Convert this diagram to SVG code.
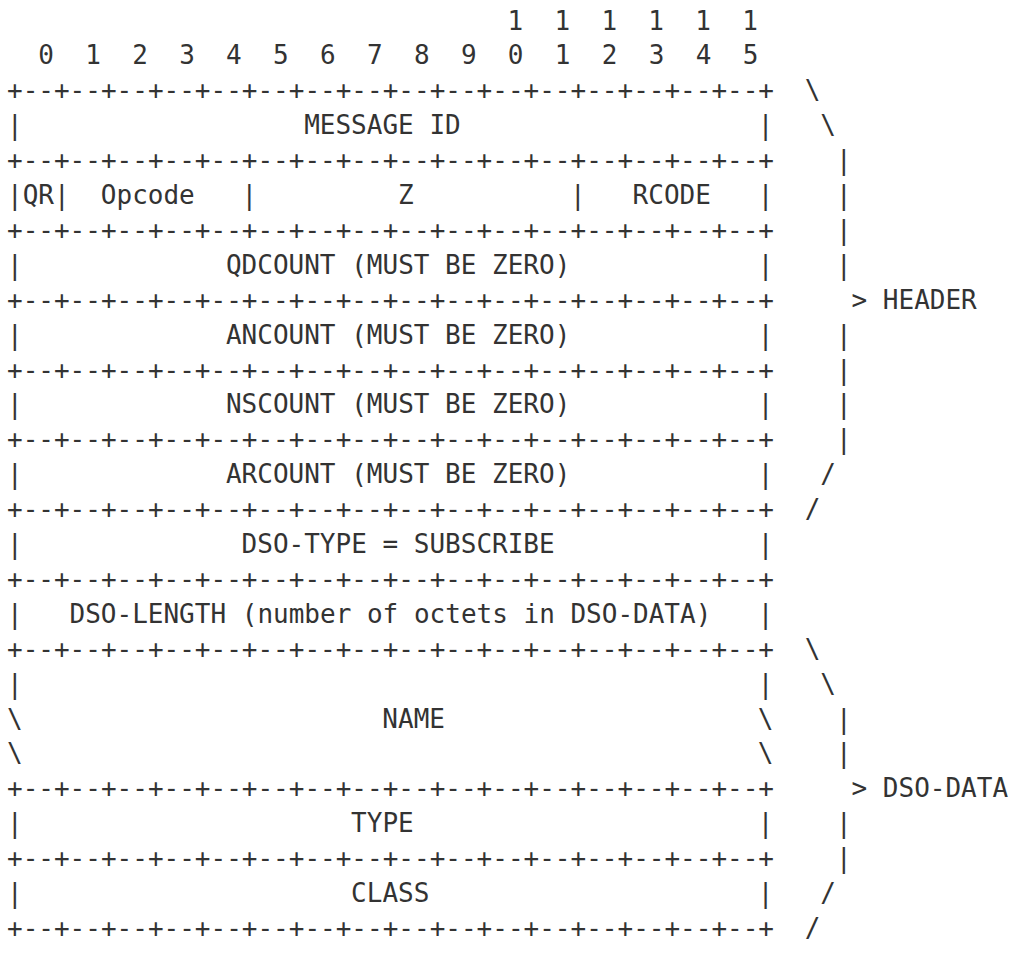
<svg xmlns="http://www.w3.org/2000/svg" width="1012" height="955" viewBox="0 0 1012 955" xml:space="preserve">
<style>
text{font-family:"DejaVu Sans Mono","Liberation Mono",monospace;font-size:26px;fill:#333;white-space:pre}
</style>
<rect width="1012" height="955" fill="#fff"/>
<g id="ruler">
<text x="507.48" y="29.5">1  1  1  1  1  1</text>
<text x="38.28" y="64.4">0  1  2  3  4  5  6  7  8  9  0  1  2  3  4  5</text>
</g>
<g id="borders">
<text x="7" y="99.3">+--+--+--+--+--+--+--+--+--+--+--+--+--+--+--+--+</text>
<text x="7" y="169.1">+--+--+--+--+--+--+--+--+--+--+--+--+--+--+--+--+</text>
<text x="7" y="238.9">+--+--+--+--+--+--+--+--+--+--+--+--+--+--+--+--+</text>
<text x="7" y="308.7">+--+--+--+--+--+--+--+--+--+--+--+--+--+--+--+--+</text>
<text x="7" y="378.5">+--+--+--+--+--+--+--+--+--+--+--+--+--+--+--+--+</text>
<text x="7" y="448.3">+--+--+--+--+--+--+--+--+--+--+--+--+--+--+--+--+</text>
<text x="7" y="518.1">+--+--+--+--+--+--+--+--+--+--+--+--+--+--+--+--+</text>
<text x="7" y="587.9">+--+--+--+--+--+--+--+--+--+--+--+--+--+--+--+--+</text>
<text x="7" y="657.7">+--+--+--+--+--+--+--+--+--+--+--+--+--+--+--+--+</text>
<text x="7" y="797.3">+--+--+--+--+--+--+--+--+--+--+--+--+--+--+--+--+</text>
<text x="7" y="867.1">+--+--+--+--+--+--+--+--+--+--+--+--+--+--+--+--+</text>
<text x="7" y="936.9">+--+--+--+--+--+--+--+--+--+--+--+--+--+--+--+--+</text>
</g>
<g id="message-id">
<text x="7" y="134.2">|</text><text x="304.16" y="134.2">MESSAGE ID</text><text x="757.72" y="134.2">|</text>
</g>
<g id="flags">
<text x="7" y="204">|QR|</text><text x="100.84" y="204">Opcode</text><text x="241.6" y="204">|</text><text x="398" y="204">Z</text><text x="570.04" y="204">|</text><text x="632.6" y="204">RCODE</text><text x="757.72" y="204">|</text>
</g>
<g id="qdcount">
<text x="7" y="273.8">|</text><text x="225.96" y="273.8">QDCOUNT (MUST BE ZERO)</text><text x="757.72" y="273.8">|</text>
</g>
<g id="ancount">
<text x="7" y="343.6">|</text><text x="225.96" y="343.6">ANCOUNT (MUST BE ZERO)</text><text x="757.72" y="343.6">|</text>
</g>
<g id="nscount">
<text x="7" y="413.4">|</text><text x="225.96" y="413.4">NSCOUNT (MUST BE ZERO)</text><text x="757.72" y="413.4">|</text>
</g>
<g id="arcount">
<text x="7" y="483.2">|</text><text x="225.96" y="483.2">ARCOUNT (MUST BE ZERO)</text><text x="757.72" y="483.2">|</text>
</g>
<g id="dso-type">
<text x="7" y="553">|</text><text x="241.6" y="553">DSO-TYPE = SUBSCRIBE</text><text x="757.72" y="553">|</text>
</g>
<g id="dso-length">
<text x="7" y="622.8">|</text><text x="69.56" y="622.8">DSO-LENGTH (number of octets in DSO-DATA)</text><text x="757.72" y="622.8">|</text>
</g>
<g id="name">
<text x="7" y="692.6">|</text><text x="757.72" y="692.6">|</text>
<text x="7" y="727.5">\</text><text x="382.36" y="727.5">NAME</text><text x="757.72" y="727.5">\</text>
<text x="7" y="762.4">\</text><text x="757.72" y="762.4">\</text>
</g>
<g id="type">
<text x="7" y="832.2">|</text><text x="351.08" y="832.2">TYPE</text><text x="757.72" y="832.2">|</text>
</g>
<g id="class">
<text x="7" y="902">|</text><text x="351.08" y="902">CLASS</text><text x="757.72" y="902">|</text>
</g>
<g id="connectors">
<text x="804.64" y="99.3">\</text>
<text x="820.28" y="134.2">\</text>
<text x="835.92" y="169.1">|</text>
<text x="835.92" y="204">|</text>
<text x="835.92" y="238.9">|</text>
<text x="835.92" y="273.8">|</text>
<text x="851.56" y="308.7">&gt; HEADER</text>
<text x="835.92" y="343.6">|</text>
<text x="835.92" y="378.5">|</text>
<text x="835.92" y="413.4">|</text>
<text x="835.92" y="448.3">|</text>
<text x="820.28" y="483.2">/</text>
<text x="804.64" y="518.1">/</text>
<text x="804.64" y="657.7">\</text>
<text x="820.28" y="692.6">\</text>
<text x="835.92" y="727.5">|</text>
<text x="835.92" y="762.4">|</text>
<text x="851.56" y="797.3">&gt; DSO-DATA</text>
<text x="835.92" y="832.2">|</text>
<text x="835.92" y="867.1">|</text>
<text x="820.28" y="902">/</text>
<text x="804.64" y="936.9">/</text>
</g>
</svg>
